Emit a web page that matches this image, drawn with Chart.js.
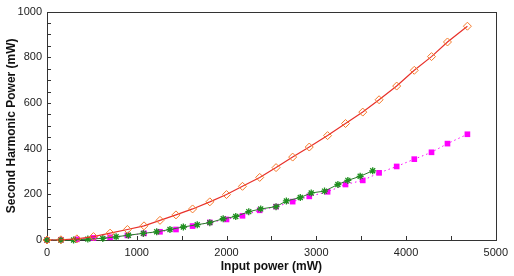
<!DOCTYPE html>
<html>
<head>
<meta charset="utf-8">
<script src="https://cdn.jsdelivr.net/npm/chart.js@4"></script>
<style>
html,body{margin:0;padding:0;background:#fff;}
#c{display:block;}
</style>
</head>
<body>
<canvas id="c" width="514" height="276"></canvas>
<script>
// Series A (red line, orange hollow diamonds)
const redX = [0,155,333,518,703,896,1081,1259,1437,1622,1814,2000,2178,2370,2552,2737,2922,3126,3326,3518,3700,3896,4092,4284,4462,4684];
const redY = [0,1,5,15,30,46,62,86,110,136,167,199,235,274,317,363,407,457,510,560,614,674,743,803,867,936];
// Series B (magenta dotted line, filled squares)
const magX = [0,155,333,518,703,896,1081,1259,1437,1622,1814,2000,2178,2370,2552,2737,2922,3126,3326,3518,3700,3896,4092,4284,4462,4684];
const magY = [0,1,3,9,12,20,29,36,46,61,77,90,106,130,146,168,191,211,243,261,294,322,354,384,422,463];
// Series C (green line, star markers)
const grnX = [0,155,296,455,622,770,907,1073,1222,1370,1519,1674,1814,1963,2103,2248,2381,2552,2667,2822,2944,3092,3241,3352,3489,3629];
const grnY = [0,0,0,4,7,14,21,29,36,46,57,67,76,93,103,124,136,146,171,186,206,214,243,261,279,303];

const xTickLabels = [0,1000,2000,3000,4000,5000];
const yTickLabels = [0,200,400,600,800,1000];
const xTitle = 'Input power (mW)';
const yTitle = 'Second Harmonic Power (mW)';

const pts = (xs, ys) => xs.map((x, i) => ({x: x, y: ys[i]}));

const boxPlugin = {
  id: 'box',
  beforeDatasetsDraw(chart) {
    const {ctx, chartArea: a, scales} = chart;
    ctx.save();
    ctx.strokeStyle = '#333';
    ctx.lineWidth = 1;
    ctx.strokeRect(Math.round(a.left) + 0.5, Math.round(a.top) + 0.5,
                   Math.round(a.right - a.left), Math.round(a.bottom - a.top));
    ctx.beginPath();
    for (let v = 0; v <= 5000; v += 500) {
      const px = Math.round(scales.x.getPixelForValue(v)) + 0.5;
      ctx.moveTo(px, a.bottom); ctx.lineTo(px, a.bottom - 4);
    }
    for (let v = 0; v <= 1000; v += 50) {
      const py = Math.round(scales.y.getPixelForValue(v)) + 0.5;
      ctx.moveTo(a.left, py); ctx.lineTo(a.left + 4, py);
    }
    ctx.stroke();
    ctx.restore();
  }
};

new Chart(document.getElementById('c'), {
  type: 'line',
  data: {
    datasets: [
      {
        label: 'C',
        data: pts(grnX, grnY),
        borderColor: '#2a7a2a',
        borderWidth: 1,
        pointStyle: 'star',
        pointRadius: 3.5,
        pointBorderColor: '#1f8f1f',
        pointBorderWidth: 1.3,
        pointBackgroundColor: '#1f8f1f',
        clip: false,
        order: 1
      },
      {
        label: 'B',
        data: pts(magX, magY),
        borderColor: '#ff00ff',
        borderWidth: 1,
        borderDash: [1.5, 3],
        pointStyle: 'rect',
        pointRadius: 4,
        pointBorderWidth: 0,
        pointBackgroundColor: '#ff00ff',
        pointBorderColor: '#ff00ff',
        clip: false,
        order: 2
      },
      {
        label: 'A',
        data: pts(redX, redY),
        borderColor: '#e8302a',
        borderWidth: 1.2,
        pointStyle: 'rectRot',
        pointRadius: 4,
        pointBorderWidth: 1,
        pointBorderColor: '#f47a2a',
        pointBackgroundColor: 'rgba(255,255,255,0)',
        clip: false,
        order: 0
      }
    ]
  },
  options: {
    responsive: false,
    animation: false,
    events: [],
    plugins: { legend: { display: false }, tooltip: { enabled: false } },
    layout: { padding: { left: 0, top: 7, right: 17, bottom: 0 } },
    scales: {
      x: {
        type: 'linear', min: 0, max: 5000,
        grid: { display: false, drawTicks: false },
        border: { display: false },
        afterFit: s => { s.height = 36; },
        afterBuildTicks: s => { s.ticks = xTickLabels.map(v => ({value: v})); },
        ticks: {
          padding: 6, color: '#222', maxRotation: 0, autoSkip: false,
          callback: v => String(v),
          font: { family: 'Liberation Sans', size: 11 }
        },
        title: {
          display: true, text: xTitle, color: '#111',
          font: { family: 'Liberation Sans', size: 12, weight: 'bold' },
          padding: { top: 2, bottom: 2 }
        }
      },
      y: {
        type: 'linear', min: 0, max: 1000,
        grid: { display: false, drawTicks: false },
        border: { display: false },
        afterFit: s => { s.width = 47; },
        afterBuildTicks: s => { s.ticks = yTickLabels.map(v => ({value: v})); },
        ticks: {
          padding: 5, color: '#222', autoSkip: false,
          callback: v => String(v),
          font: { family: 'Liberation Sans', size: 11 }
        },
        title: {
          display: true, text: yTitle, color: '#111',
          font: { family: 'Liberation Sans', size: 12, weight: 'bold' },
          padding: { top: 4, bottom: 4 }
        }
      }
    }
  },
  plugins: [boxPlugin]
});
</script>
</body>
</html>
